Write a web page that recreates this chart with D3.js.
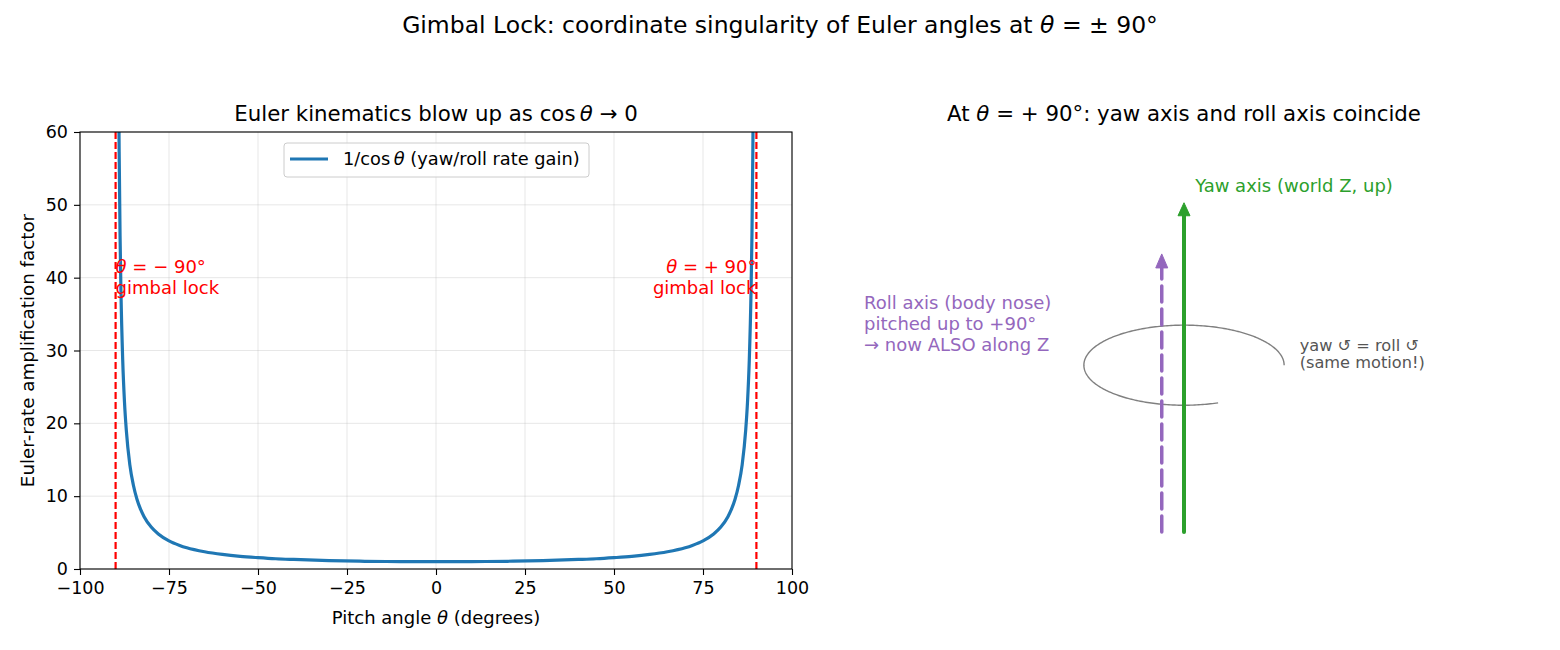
<!DOCTYPE html>
<html><head><meta charset="utf-8">
<script src="https://cdn.jsdelivr.net/npm/d3@7"></script>
<style>body{margin:0;background:#fff;} svg text{font-family:"DejaVu Sans",sans-serif;}</style>
</head><body><svg id="c" width="1560" height="650"></svg>
<script>
// ---- data ----
const pitchDeg = [-89.5,-89.25,-89,-88.75,-88.5,-88,-87.5,-87,-86,-85,-84,-83,-82,-80,-78,-75,-72,-70,-65,-60,-55,-50,-45,-40,-30,-20,-10,0,
                  10,20,30,40,45,50,55,60,65,70,72,75,78,80,82,83,84,85,86,87,87.5,88,88.5,88.75,89,89.25,89.5];
const gain = [114.6,76.4,57.3,45.8,38.2,28.65,22.9,19.1,14.3,11.5,9.57,8.21,7.19,5.76,4.81,3.86,3.24,2.92,2.37,2.0,1.74,1.56,1.41,1.31,1.15,1.06,1.02,1.0,
              1.02,1.06,1.15,1.31,1.41,1.56,1.74,2.0,2.37,2.92,3.24,3.86,4.81,5.76,7.19,8.21,9.57,11.5,14.3,19.1,22.9,28.65,38.2,45.8,57.3,76.4,114.6];
const xTickVals = [-100,-75,-50,-25,0,25,50,75,100];
const yTickVals = [0,10,20,30,40,50,60];
const lockAngles = [-90, 90];
const lockLabels = ["\u2212 90°", "+ 90°"];
const rollLines = ["Roll axis (body nose)", "pitched up to +90°", "\u2192 now ALSO along Z"];
const sameLines = ["yaw \u21BA = roll \u21BA", "(same motion!)"];

const svg = d3.select("#c");
const L = {x0:80, x1:792, y0:132, y1:569};
const x = d3.scaleLinear().domain([-100,100]).range([L.x0, L.x1]);
const y = d3.scaleLinear().domain([0,60]).range([L.y1, L.y0]);
const TS = "\u2009"; // thin space used by math layout

function mathText(sel, parts){
  parts.forEach(p=>{
    const t = sel.append("tspan").text(p[0]);
    if(p[1]) t.attr("font-style","italic");
  });
  return sel;
}

// suptitle
mathText(svg.append("text").attr("x",780).attr("y",33).attr("text-anchor","middle").attr("font-size",23.5),
  [["Gimbal Lock: coordinate singularity of Euler angles at "],["θ",1],[" = ± 90°"]]);

// ---- left panel ----
const gL = svg.append("g");
svg.append("defs").append("clipPath").attr("id","clipL").append("rect")
  .attr("x",L.x0).attr("y",L.y0).attr("width",L.x1-L.x0).attr("height",L.y1-L.y0);

// grid
gL.selectAll(".gx").data(xTickVals).join("line")
  .attr("x1",d=>x(d)).attr("x2",d=>x(d)).attr("y1",L.y0).attr("y2",L.y1)
  .attr("stroke","#b0b0b0").attr("stroke-opacity",0.3).attr("stroke-width",1);
gL.selectAll(".gy").data(yTickVals).join("line")
  .attr("y1",d=>y(d)).attr("y2",d=>y(d)).attr("x1",L.x0).attr("x2",L.x1)
  .attr("stroke","#b0b0b0").attr("stroke-opacity",0.3).attr("stroke-width",1);

// curve
const pts = pitchDeg.map((p,i)=>[p,gain[i]]);
const line = d3.line().x(d=>x(d[0])).y(d=>y(d[1])).curve(d3.curveMonotoneX);
gL.append("path").datum(pts).attr("d",line).attr("fill","none")
  .attr("stroke","#1f77b4").attr("stroke-width",3.2).attr("clip-path","url(#clipL)");

// lock lines
gL.selectAll(".lock").data(lockAngles).join("line")
  .attr("x1",d=>x(d)).attr("x2",d=>x(d)).attr("y1",L.y0).attr("y2",L.y1)
  .attr("stroke","red").attr("stroke-width",2.2).attr("stroke-dasharray","7,3");

// annotations
lockAngles.forEach((a,i)=>{
  const anchor = a<0 ? "start":"end";
  const t = gL.append("text").attr("x",x(a)).attr("y",y(40)-5).attr("text-anchor",anchor)
    .attr("fill","red").attr("font-size",18);
  mathText(t,[["θ",1],[" = "+lockLabels[i]]]);
  gL.append("text").attr("x",x(a)).attr("y",y(40)+16).attr("text-anchor",anchor)
    .attr("fill","red").attr("font-size",18).text("gimbal lock");
});

// axes
const xAxis = d3.axisBottom(x).tickValues(xTickVals).tickSize(6).tickPadding(7)
  .tickFormat(d=>d<0?"\u2212"+Math.abs(d):d);
const yAxis = d3.axisLeft(y).tickValues(yTickVals).tickSize(6).tickPadding(6);
const ax = gL.append("g").attr("transform",`translate(0,${L.y1})`).call(xAxis);
const ay = gL.append("g").attr("transform",`translate(${L.x0},0)`).call(yAxis);
[ax,ay].forEach(a=>{a.select(".domain").remove();
  a.selectAll("text").attr("font-size",17.5).attr("fill","#000").attr("font-family","DejaVu Sans");
  a.selectAll("line").attr("stroke","#000").attr("stroke-width",1.1);});
gL.append("rect").attr("x",L.x0).attr("y",L.y0).attr("width",L.x1-L.x0).attr("height",L.y1-L.y0)
  .attr("fill","none").attr("stroke","#000").attr("stroke-width",1.1);

mathText(gL.append("text").attr("x",(L.x0+L.x1)/2).attr("y",624).attr("text-anchor","middle").attr("font-size",18),
  [["Pitch angle "],["θ",1],[" (degrees)"]]);
gL.append("text").attr("transform",`translate(34,${(L.y0+L.y1)/2}) rotate(-90)`).attr("text-anchor","middle")
  .attr("font-size",18.3).text("Euler-rate amplification factor");
mathText(gL.append("text").attr("x",(L.x0+L.x1)/2).attr("y",121).attr("text-anchor","middle").attr("font-size",21.3),
  [["Euler kinematics blow up as cos"+TS],["θ",1],[" \u2192 0"]]);

// legend
const lg = gL.append("g");
lg.append("rect").attr("x",284).attr("y",143).attr("width",305).attr("height",34).attr("rx",3)
  .attr("fill","#fff").attr("fill-opacity",0.8).attr("stroke","#cccccc");
lg.append("line").attr("x1",290).attr("x2",328).attr("y1",159).attr("y2",159).attr("stroke","#1f77b4").attr("stroke-width",3.2);
mathText(lg.append("text").attr("x",343).attr("y",165).attr("font-size",17.8),
  [["1/cos"+TS],["θ",1],[" (yaw/roll rate gain)"]]);

// ---- right panel ----
const R = {x0:828, x1:1540, y0:132, y1:569};
const xr = d3.scaleLinear().domain([-1.6,1.6]).range([R.x0,R.x1]);
const yr = d3.scaleLinear().domain([-0.166,1.798]).range([R.y1,R.y0]);
const gR = svg.append("g");
mathText(gR.append("text").attr("x",(R.x0+R.x1)/2).attr("y",121).attr("text-anchor","middle").attr("font-size",21.3),
  [["At "],["θ",1],[" = + 90°: yaw axis and roll axis coincide"]]);

function arrow(g, xv, y0v, y1v, color, width, dash, headW, headL){
  const xp = xr(xv), yb = yr(y0v), yt = yr(y1v);
  g.append("line").attr("x1",xp).attr("x2",xp).attr("y1",yb).attr("y2",yt+headL-2)
    .attr("stroke",color).attr("stroke-width",width).attr("stroke-linecap","round")
    .attr("stroke-dasharray",dash||null);
  g.append("path").attr("d",`M${xp},${yt} L${xp-headW/2},${yt+headL} L${xp+headW/2},${yt+headL} Z`)
    .attr("fill",color).attr("stroke",color).attr("stroke-width",1).attr("stroke-linejoin","round");
}
// gray rotation arc (ellipse around the shared axis)
const arcT = d3.range(0, 5.07, 0.02);
const arcLine = d3.line().x(t=>xr(0.45*Math.cos(t))).y(t=>yr(0.75+0.18*Math.sin(t)));
gR.append("path").datum(arcT).attr("d",arcLine).attr("fill","none").attr("stroke","#808080").attr("stroke-width",1.4);

arrow(gR, -0.1, 0, 1.25, "#9467bd", 3.5, "16,7", 12, 14);
arrow(gR, 0, 0, 1.48, "#2ca02c", 4, null, 12, 13);

gR.append("text").attr("x",xr(0.05)).attr("y",yr(1.555)+6).attr("fill","#2ca02c").attr("font-size",18).text("Yaw axis (world Z, up)");
gR.selectAll(".roll").data(rollLines).join("text")
  .attr("x",864).attr("y",(d,i)=>yr(0.935)+6+(i-1)*21).attr("fill","#9467bd").attr("font-size",18).text(d=>d);
gR.selectAll(".same").data(sameLines).join("text")
  .attr("x",xr(0.52)).attr("y",(d,i)=>yr(0.80)+5+(i-0.5)*17).attr("fill","#555").attr("font-size",16.2).text(d=>d);
</script></body></html>
